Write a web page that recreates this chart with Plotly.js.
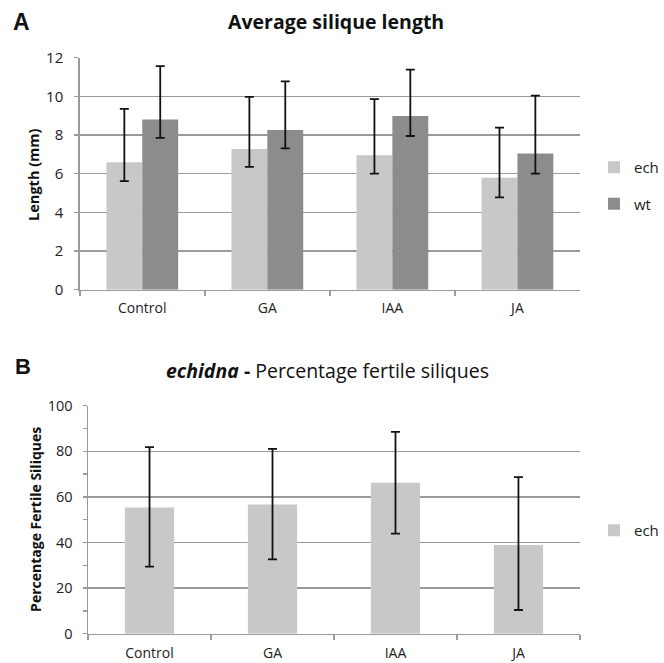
<!DOCTYPE html>
<html>
<head>
<meta charset="utf-8">
<script src="https://cdn.plot.ly/plotly-3.0.1.min.js"></script>
<style>html,body{margin:0;padding:0;background:#fff;}#chart{width:664px;height:663px;}</style>
</head>
<body>
<div id="chart"></div>
<script>
// ---- Data ----
const categories = ["Control", "GA", "IAA", "JA"];

// Panel A: average silique length (mm)
const echLength = [6.59, 7.28, 6.95, 5.79];
const echLengthErrUp = [2.76, 2.69, 2.91, 2.59];
const echLengthErrDown = [0.97, 0.93, 0.95, 1.01];
const wtLength = [8.80, 8.26, 8.99, 7.04];
const wtLengthErrUp = [2.76, 2.52, 2.39, 3.00];
const wtLengthErrDown = [0.95, 0.95, 1.04, 1.04];

// Panel B: echidna percentage fertile siliques
const echFertile = [55.3, 56.7, 66.2, 38.9];
const echFertileErrUp = [26.5, 24.4, 22.3, 29.8];
const echFertileErrDown = [25.9, 24.1, 22.3, 28.5];

const lengthTicks = [0, 2, 4, 6, 8, 10, 12];
const fertileTicks = [0, 20, 40, 60, 80, 100];
const fertileMinorTicks = [10, 30, 50, 70, 90];

// ---- Styles ----
const FONT = "'Open Sans', 'Noto Sans', sans-serif";
const ECH_COLOR = "#c8c8c8";
const WT_COLOR = "#8c8c8c";
const GRID = "#9a9a9a";
const W = 664, H = 663;
const px = v => v / W;
const py = v => 1 - v / H;

function errY(up, down) {
  return {type: "data", symmetric: false, array: up, arrayminus: down,
          color: "#111", thickness: 1.8, width: 4.5};
}

const traces = [
  {type: "bar", name: "ech", x: categories, y: echLength, xaxis: "x", yaxis: "y",
   marker: {color: ECH_COLOR}, width: 0.287, offset: -0.287,
   error_y: errY(echLengthErrUp, echLengthErrDown),
   legend: "legend", legendgroup: "a1", hoverinfo: "skip"},
  {type: "bar", name: "wt", x: categories, y: wtLength, xaxis: "x", yaxis: "y",
   marker: {color: WT_COLOR}, width: 0.287, offset: 0,
   error_y: errY(wtLengthErrUp, wtLengthErrDown),
   legend: "legend", legendgroup: "a2", hoverinfo: "skip"},
  {type: "bar", name: "ech", x: categories, y: echFertile, xaxis: "x2", yaxis: "y2",
   marker: {color: ECH_COLOR}, width: 0.4, offset: -0.2,
   error_y: errY(echFertileErrUp, echFertileErrDown),
   legend: "legend2", hoverinfo: "skip"}
];

const xBase = {
  type: "category", range: [-0.5, 3.5], showgrid: false,
  showline: true, linecolor: GRID, linewidth: 1.5,
  ticks: "outside", tickson: "boundaries", ticklen: 5, tickcolor: GRID, tickwidth: 1.5,
  tickfont: {family: FONT, size: 14, color: "#222"}, fixedrange: true
};
const yBase = {
  showgrid: true, gridcolor: GRID, gridwidth: 1.5,
  showline: true, linecolor: GRID, linewidth: 1.5,
  ticks: "outside", ticklen: 4, tickcolor: GRID, tickwidth: 1.5,
  zeroline: false, fixedrange: true
};

const layout = {
  width: W, height: H,
  margin: {l: 0, r: 0, t: 0, b: 0},
  paper_bgcolor: "#fff", plot_bgcolor: "#fff",
  barmode: "group",
  showlegend: true,
  font: {family: FONT, color: "#222"},
  xaxis: Object.assign({}, xBase, {domain: [px(80), px(581.7)], anchor: "y", ticklabelstandoff: 5}),
  yaxis: Object.assign({}, yBase, {domain: [py(289.7), py(57.7)], anchor: "x",
    range: [0, 12], tickvals: lengthTicks, ticklabelstandoff: 8,
    tickfont: {family: FONT, size: 15, color: "#222"}}),
  xaxis2: Object.assign({}, xBase, {domain: [px(88.3), px(581.7)], anchor: "y2", ticklabelstandoff: 6}),
  yaxis2: Object.assign({}, yBase, {domain: [py(633.7), py(405.7)], anchor: "x2",
    range: [0, 100], tickvals: fertileTicks, ticklabelstandoff: 7,
    tickfont: {family: FONT, size: 14.5, color: "#222"},
    minor: {tickvals: fertileMinorTicks, ticks: "outside", ticklen: 4, tickcolor: GRID, tickwidth: 1.5, showgrid: false}}),
  legend: {x: px(596), y: py(151), xanchor: "left", yanchor: "top",
    font: {family: FONT, size: 15, color: "#222"}, itemwidth: 30,
    tracegroupgap: 14, bgcolor: "rgba(0,0,0,0)"},
  legend2: {x: px(596), y: py(514), xanchor: "left", yanchor: "top",
    font: {family: FONT, size: 15, color: "#222"}, itemwidth: 30,
    bgcolor: "rgba(0,0,0,0)"},
  annotations: [
    {text: "<b>A</b>", x: px(11), y: py(22), xref: "paper", yref: "paper",
     xanchor: "left", yanchor: "middle", showarrow: false,
     font: {family: "Liberation Sans, Arial, sans-serif", size: 23, color: "#111"}},
    {text: "<b>Average silique length</b>", x: px(337), y: py(21), xref: "paper", yref: "paper",
     xanchor: "center", yanchor: "middle", showarrow: false,
     font: {family: FONT, size: 19.5, color: "#111"}},
    {text: "<b>B</b>", x: px(13), y: py(366), xref: "paper", yref: "paper",
     xanchor: "left", yanchor: "middle", showarrow: false,
     font: {family: "Liberation Sans, Arial, sans-serif", size: 22, color: "#111"}},
    {text: "<b><i>echidna</i> -</b> Percentage fertile siliques", x: px(328), y: py(370), xref: "paper", yref: "paper",
     xanchor: "center", yanchor: "middle", showarrow: false,
     font: {family: FONT, size: 19.5, color: "#111"}},
    {text: "<b>Length (mm)</b>", x: px(34), y: py(175), xref: "paper", yref: "paper",
     xanchor: "center", yanchor: "middle", textangle: -90, showarrow: false,
     font: {family: FONT, size: 14.5, color: "#111"}},
    {text: "<b>Percentage Fertile Siliques</b>", x: px(35), y: py(519), xref: "paper", yref: "paper",
     xanchor: "center", yanchor: "middle", textangle: -90, showarrow: false,
     font: {family: FONT, size: 14, color: "#111"}}
  ]
};

Plotly.newPlot("chart", traces, layout, {staticPlot: true, displayModeBar: false});
</script>
</body>
</html>
